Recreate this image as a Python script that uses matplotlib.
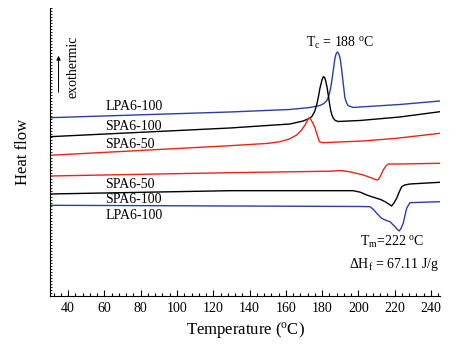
import matplotlib
matplotlib.use("Agg")
import matplotlib.pyplot as plt
from matplotlib.ticker import MultipleLocator

plt.rcParams['font.family'] = ['Liberation Serif', 'DejaVu Serif']
plt.rcParams['mathtext.fontset'] = 'custom'
plt.rcParams['mathtext.rm'] = 'Liberation Serif'
plt.rcParams['mathtext.it'] = 'Liberation Serif:italic'

# cooling scans (exothermic crystallisation peaks), heat flow in arbitrary units
t_lpa_cool = [30, 129.3, 162.3, 173.3, 178.8, 180.8, 182.5, 183.5, 184.3, 185.1, 185.8, 186.5, 187.1, 187.8, 188.4,
              189.1, 189.9, 190.6, 191.3, 192.0, 192.6, 193.5, 194.4, 197.2, 200.9, 222.9, 245]
h_lpa_cool = [178.3, 184, 186.5, 188.5, 190.5, 192.3, 195, 199, 204.3, 212, 221, 230, 238, 242.5, 244,
              242.5, 238, 229, 218, 207, 198, 193, 190.3, 188.5, 189, 191.5, 195]

t_spa100_cool = [30, 129.3, 162.3, 169.6, 172.5, 174.3, 175.8, 177.0, 178.0, 178.8, 180.0, 180.7, 181.4, 182.1,
                 182.8, 183.4, 184.0, 184.7, 185.4, 186.2, 187.3, 188.9, 200.9, 222.9, 245]
h_spa100_cool = [159.3, 168, 172, 175, 177.3, 179.3, 184, 191, 199.5, 207.7, 216.5, 219.3, 218.5, 214.3,
                 208, 201, 193.5, 186, 181, 177.7, 175.5, 174.5, 175.5, 179, 184.3]

t_spa50_cool = [30, 129.3, 150.0, 156.8, 162.0, 166.0, 168.5, 170.6, 172.2, 173.0, 173.8, 175.0, 176.1, 177.3,
                178.5, 180.5, 202.5, 221.1, 245]
h_spa50_cool = [140.7, 150.3, 152.6, 154.3, 157, 161, 165.5, 171, 176.5, 178.3, 176.5, 172.5, 168, 161,
                154.3, 153.3, 155, 157.7, 162.7]

# heating scans (endothermic melting peaks)
t_spa50_heat = [30, 129.3, 185.0, 189.9, 194.0, 198.1, 202.7, 206.5, 210.1, 211.0, 211.9, 213.7, 215.2, 216.5,
                222.9, 245]
h_spa50_heat = [120, 123.3, 124.8, 125.5, 124.6, 123, 121, 118.5, 116, 116.5, 119, 126, 130, 132, 132, 132.7]

t_spa100_heat = [30, 129.3, 197.2, 201.0, 204.6, 207.5, 210.1, 212.5, 214.7, 216.7, 218.3, 219.6, 221.1, 222.5,
                 223.9, 225.5, 228.4, 245]
h_spa100_heat = [102, 105.3, 105.3, 103.8, 101, 99.2, 97.7, 96.3, 94.3, 92, 90, 93, 97.7, 104, 109.3, 111,
                 112, 113.7]

t_lpa_heat = [30, 129.3, 200.9, 206.4, 208.3, 210.1, 212.8, 215.0, 217.4, 220.2, 221.5, 222.5, 223.5, 224.7,
              225.7, 226.6, 228.4, 245]
h_lpa_heat = [90.7, 90, 89.5, 89.3, 86.5, 82.7, 77.7, 75.8, 74.3, 69.3, 66.5, 65, 67.5, 72.7, 80.5, 87.7,
              93.3, 94.3]

blue = '#2b3ea6'
red = '#ec2415'

fig = plt.figure(figsize=(4.67, 3.47), dpi=100)
ax = fig.add_axes([0.1071, 0.1470, 0.8351, 0.8300])

lw = 1.0
ax.plot(t_lpa_cool, h_lpa_cool, color=blue, lw=lw)
ax.plot(t_spa100_cool, h_spa100_cool, color='black', lw=lw)
ax.plot(t_spa50_cool, h_spa50_cool, color=red, lw=lw)
ax.plot(t_spa50_heat, h_spa50_heat, color=red, lw=lw)
ax.plot(t_spa100_heat, h_spa100_heat, color='black', lw=lw)
ax.plot(t_lpa_heat, h_lpa_heat, color=blue, lw=lw)

ax.set_xlim(30, 245)
ax.set_ylim(0, 288)

fs = 10
ax.text(60.4, 189.3, 'LPA6-100', fontsize=fs, va='center')
ax.text(60.4, 169.3, 'SPA6-100', fontsize=fs, va='center')
ax.text(60.4, 151, 'SPA6-50', fontsize=fs, va='center')
ax.text(60.4, 111, 'SPA6-50', fontsize=fs, va='center')
ax.text(60.4, 96, 'SPA6-100', fontsize=fs, va='center')
ax.text(60.4, 80.5, 'LPA6-100', fontsize=fs, va='center')

ax.text(42.6, 229, 'exothermic', fontsize=fs, rotation=90, ha='center', va='center')
ax.annotate('', xy=(34.7, 243), xytext=(34.7, 201),
            arrowprops=dict(arrowstyle='-|>', color='black', lw=0.7,
                            mutation_scale=6))

ax.text(190.1, 253, r'T$_\mathrm{c}$ = 188 $^\mathrm{o}$C', fontsize=fs,
        ha='center', va='center')
ax.text(218.7, 54.3, r'T$_\mathrm{m}$=222 $^\mathrm{o}$C', fontsize=fs,
        ha='center', va='center')
ax.text(219.4, 31.7, r'$\Delta$H$_\mathrm{f}$ = 67.11 J/g', fontsize=fs,
        ha='center', va='center')

ax.set_xlabel(r'Temperature ($^\mathrm{o}$C)', fontsize=12, labelpad=4)
ax.set_ylabel('Heat flow', fontsize=12, labelpad=14)

ax.spines['top'].set_visible(False)
ax.spines['right'].set_visible(False)

ax.xaxis.set_major_locator(MultipleLocator(20))
ax.xaxis.set_minor_locator(MultipleLocator(4))
ax.tick_params(axis='x', which='major', direction='in', length=4, width=0.8,
               labelsize=10, pad=4)
ax.tick_params(axis='x', which='minor', direction='in', length=2, width=0.8)

ax.yaxis.set_major_locator(MultipleLocator(3))
ax.tick_params(axis='y', which='major', direction='in', length=1.5, width=0.6,
               labelleft=False)

fig.savefig('out.png', dpi=100)
